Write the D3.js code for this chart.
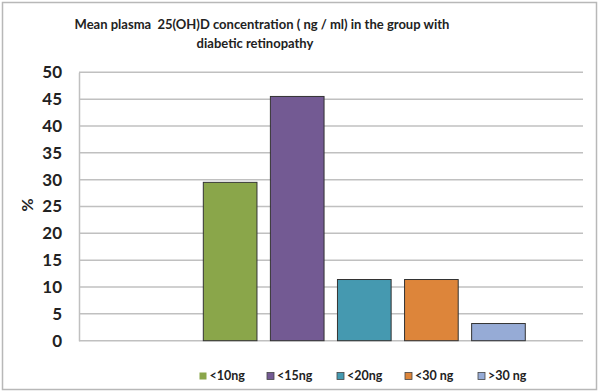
<!DOCTYPE html>
<html><head><meta charset="utf-8">
<script src="https://cdn.jsdelivr.net/npm/d3@7"></script>
<style>body{margin:0;background:#fff}svg{display:block}text{font-family:Lato,"Open Sans",sans-serif;white-space:pre}</style>
</head><body>
<svg id="c" width="600" height="392"></svg>
<script>
const categories = ["<10ng", "<15ng", "<20ng", "<30 ng", ">30 ng"];
const values = [29.5, 45.5, 11.4, 11.4, 3.2];
const colors = ["#8aa64a", "#735a93", "#4599b0", "#dd853a", "#96abd6"];
const yTicks = [0, 5, 10, 15, 20, 25, 30, 35, 40, 45, 50];
const titleLines = ["Mean plasma  25(OH)D concentration ( ng / ml) in the group with", "diabetic retinopathy"];

(function () {
const svg = d3.select("#c");
svg.append("rect").attr("x", 2.5).attr("y", 2.5).attr("width", 594).attr("height", 387)
  .attr("fill", "#fff").attr("stroke", "#b8b8b8").attr("stroke-width", 1.5);

const pl = 79, pr = 583, pt = 72.3, pb = 340.7;
const y = d3.scaleLinear().domain([0, 50]).range([pb, pt]);
const x = d3.scaleBand().domain(categories).range([196.6, 532]).paddingInner(0.2).paddingOuter(0.1);

// gridlines
svg.append("g").selectAll("line").data(yTicks).join("line")
  .attr("x1", pl).attr("x2", pr).attr("y1", d => y(d)).attr("y2", d => y(d))
  .attr("stroke", "#c0c0c0").attr("stroke-width", 1.5);

// y axis
const ya = svg.append("g").attr("transform", `translate(${pl},0)`)
  .call(d3.axisLeft(y).tickValues(yTicks).tickSize(0).tickPadding(17));
ya.select(".domain").attr("stroke", "#c0c0c0").attr("stroke-width", 1.5);
ya.selectAll("text").attr("font-size", 17).attr("font-weight", "bold").attr("fill", "#222")
  .attr("font-family", "Lato, sans-serif");

svg.append("text").attr("transform", "translate(33,205) rotate(-90)")
  .attr("text-anchor", "middle").attr("font-size", 16).attr("font-weight", "bold").attr("fill", "#222").text("%");

// bars
svg.append("g").selectAll("rect").data(categories).join("rect")
  .attr("x", d => x(d)).attr("width", x.bandwidth())
  .attr("y", (d, i) => y(values[i])).attr("height", (d, i) => y(0) - y(values[i]))
  .attr("fill", (d, i) => colors[i]).attr("stroke", "#333").attr("stroke-width", 1);

// title
svg.append("g").selectAll("text").data(titleLines).join("text")
  .attr("x", (d, i) => i === 0 ? 262 : 255).attr("y", (d, i) => 29 + i * 19)
  .attr("text-anchor", "middle").attr("font-size", 13).attr("font-weight", "bold").attr("fill", "#222")
  .text(d => d);

// legend
const legX = [199.5, 267, 337, 405, 478];
const leg = svg.append("g").selectAll("g").data(categories).join("g")
  .attr("transform", (d, i) => `translate(${legX[i]},372.5)`);
leg.append("rect").attr("width", 7).attr("height", 7).attr("fill", (d, i) => colors[i])
  .attr("stroke", (d, i) => i === 0 ? "none" : "#444").attr("stroke-width", 0.8);
leg.append("text").attr("x", 10).attr("y", 7.5).attr("font-size", 12.5).attr("font-weight", "bold").attr("fill", "#222")
  .text(d => d);
})();
</script>
</body></html>
